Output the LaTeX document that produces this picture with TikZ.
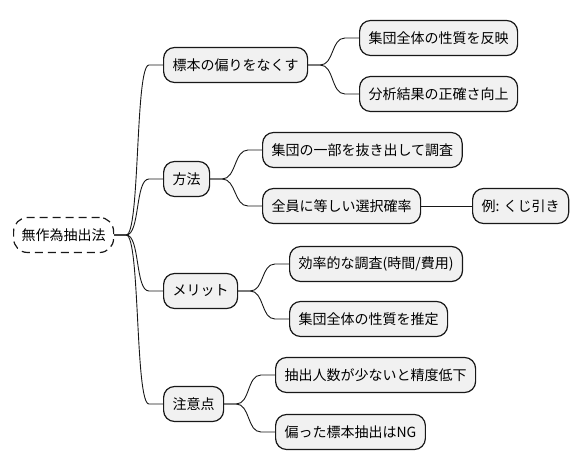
\documentclass[tikz,border=0pt]{standalone}
\usepackage{fontspec}
\setmainfont{Noto Sans CJK JP}
\usetikzlibrary{positioning,calc}
\definecolor{nodefill}{HTML}{F1F1F1}
\definecolor{nodeline}{HTML}{181818}

\begin{document}
\begin{tikzpicture}[
  x=1pt, y=-1pt,
  topic/.style={draw=nodeline, fill=nodefill, line width=1.2pt, rounded corners=11pt,
    anchor=west, minimum height=35pt, inner xsep=9pt, font=\fontsize{14pt}{16pt}\selectfont},
  roottopic/.style={topic, fill=white, dashed, dash pattern=on 8pt off 5pt, rounded corners=14pt, inner xsep=8pt},
  branch/.style={draw=nodeline, line width=0.9pt,
    to path={-- ++(12,0) .. controls ++(14,0) and ([xshift=-28pt]\tikztotarget) .. ([xshift=-14pt]\tikztotarget) -- (\tikztotarget)}}
]
  \useasboundingbox (0,0) rectangle (582,471);

  % root
  \node[roottopic] (root) at (13,235) {無作為抽出法};

  % first level
  \node[topic] (hyohon) at (163,65)  {標本の偏りをなくす};
  \node[topic] (hoho)   at (163,179) {方法};
  \node[topic] (merit)  at (163,291) {メリット};
  \node[topic] (chui)   at (163,404) {注意点};

  % second level
  \node[topic] (hanei)   at (359,38)  {集団全体の性質を反映};
  \node[topic] (seikaku) at (359,94)  {分析結果の正確さ向上};
  \node[topic] (ichibu)  at (262,150) {集団の一部を抜き出して調査};
  \node[topic] (zenin)   at (262,206) {全員に等しい選択確率};
  \node[topic] (kuji)    at (472,206) {例: くじ引き};
  \node[topic] (koritsu) at (289,264) {効率的な調査(時間/費用)};
  \node[topic] (suitei)  at (289,319) {集団全体の性質を推定};
  \node[topic] (shosu)   at (275,375) {抽出人数が少ないと精度低下};
  \node[topic] (ng)      at (275,432) {偏った標本抽出はNG};

  \draw[branch] (root.east) to (hyohon.west);
  \draw[branch] (root.east) to (hoho.west);
  \draw[branch] (root.east) to (merit.west);
  \draw[branch] (root.east) to (chui.west);
  \draw[branch] (hyohon.east) to (hanei.west);
  \draw[branch] (hyohon.east) to (seikaku.west);
  \draw[branch] (hoho.east) to (ichibu.west);
  \draw[branch] (hoho.east) to (zenin.west);
  \draw[draw=nodeline, line width=0.9pt] (zenin.east) -- (kuji.west);
  \draw[branch] (merit.east) to (koritsu.west);
  \draw[branch] (merit.east) to (suitei.west);
  \draw[branch] (chui.east) to (shosu.west);
  \draw[branch] (chui.east) to (ng.west);

\end{tikzpicture}
\end{document}
